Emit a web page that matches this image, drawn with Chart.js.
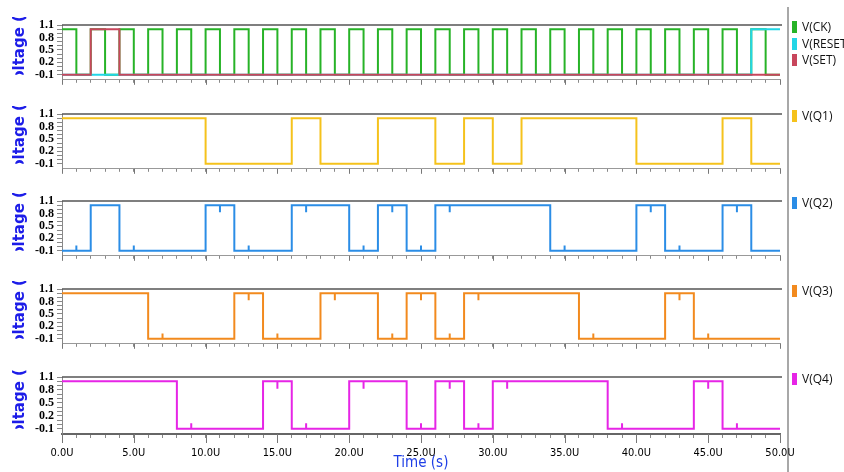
<!DOCTYPE html>
<html>
<head>
<meta charset="utf-8">
<script src="https://cdn.jsdelivr.net/npm/chart.js@4.4.1/dist/chart.umd.min.js"></script>
<style>
html, body { margin: 0; padding: 0; background: #fff; }
#wrap { position: relative; width: 844px; height: 472px; overflow: hidden; background: #fff; }
#wrap canvas { position: absolute; left: 0; }
#sep { position: absolute; left: 787px; top: 7px; width: 2px; height: 465px; background: #a8a8a8; }
.leg { position: absolute; left: 792px; font: 12px "Open Sans", sans-serif; color: #111; white-space: nowrap; line-height: 14px; }
.leg i { display: inline-block; width: 5px; height: 12px; vertical-align: -2px; margin-right: 5px; }
</style>
</head>
<body>
<div id="wrap"><div id="sep"></div></div>
<script>
// levels of the logic signals (V)
const HIGH = 1.0;
const LOW = -0.1;
const GLITCH_UP = 0.13;    // small spike rising from the low level
const GLITCH_DOWN = 0.17;  // small spike dropping from the high level
const T_END = 50;

// each wave: start level, then the times (us) where it toggles, plus glitch times
const ckStart = HIGH;
const ckEdges = [1, 2, 3, 4, 5, 6, 7, 8, 9, 10, 11, 12, 13, 14, 15, 16, 17, 18, 19, 20, 21, 22, 23, 24, 25,
  26, 27, 28, 29, 30, 31, 32, 33, 34, 35, 36, 37, 38, 39, 40, 41, 42, 43, 44, 45, 46, 47, 48, 49];

const resetStart = LOW;
const resetEdges = [48];

const setStart = LOW;
const setEdges = [2, 4];

const q1Start = HIGH;
const q1Edges = [10, 16, 18, 22, 26, 28, 30, 32, 40, 46, 48];
const q1Glitches = [];

const q2Start = LOW;
const q2Edges = [2, 4, 10, 12, 16, 20, 22, 24, 26, 34, 40, 42, 46, 48];
const q2Glitches = [1, 5, 11, 13, 17, 21, 23, 25, 27, 35, 41, 43, 47];

const q3Start = HIGH;
const q3Edges = [6, 12, 14, 18, 22, 24, 26, 28, 36, 42, 44];
const q3Glitches = [7, 13, 15, 19, 23, 25, 27, 29, 37, 43, 45];

const q4Start = HIGH;
const q4Edges = [8, 14, 16, 20, 24, 26, 28, 30, 38, 44, 46];
const q4Glitches = [9, 15, 17, 21, 25, 27, 29, 31, 39, 45, 47];

const xTickValues = [0, 5, 10, 15, 20, 25, 30, 35, 40, 45, 50];
const xTickLabels = ["0.0U", "5.0U", "10.0U", "15.0U", "20.0U", "25.0U", "30.0U", "35.0U", "40.0U", "45.0U", "50.0U"];
const yTickValues = [-0.1, 0, 0.1, 0.2, 0.3, 0.4, 0.5, 0.6, 0.7, 0.8, 0.9, 1.0, 1.1];
const yTickLabels = ["1.1", "0.8", "0.5", "0.2", "-0.1"];
const Y_MIN = -0.22;
const Y_MAX = 1.1;

function buildWave(start, edges, glitches) {
	const marks = edges.map(t => ({ t, glitch: false }))
		.concat(glitches.map(t => ({ t, glitch: true })))
		.sort((a, b) => a.t - b.t);
	let level = start;
	const pts = [{ x: 0, y: level }];
	marks.forEach(m => {
		if (m.glitch) {
			const tip = level === HIGH ? level - GLITCH_DOWN : level + GLITCH_UP;
			pts.push({ x: m.t, y: level }, { x: m.t, y: tip }, { x: m.t, y: level });
		} else {
			pts.push({ x: m.t, y: level });
			level = level === HIGH ? LOW : HIGH;
			pts.push({ x: m.t, y: level });
		}
	});
	pts.push({ x: T_END, y: level });
	return pts;
}

// panels top to bottom; "order" puts lower numbers on top
const panels = [
	{ top: 25, series: [
		{ name: "V(CK)", color: "#27b327", order: 2, data: buildWave(ckStart, ckEdges, []) },
		{ name: "V(RESET)", color: "#22d6e6", order: 1, data: buildWave(resetStart, resetEdges, []) },
		{ name: "V(SET)", color: "#c8465c", order: 0, data: buildWave(setStart, setEdges, []) }
	] },
	{ top: 114, series: [{ name: "V(Q1)", color: "#f5c21c", order: 0, data: buildWave(q1Start, q1Edges, q1Glitches) }] },
	{ top: 201, series: [{ name: "V(Q2)", color: "#2b8de6", order: 0, data: buildWave(q2Start, q2Edges, q2Glitches) }] },
	{ top: 289, series: [{ name: "V(Q3)", color: "#f28a1e", order: 0, data: buildWave(q3Start, q3Edges, q3Glitches) }] },
	{ top: 377, series: [{ name: "V(Q4)", color: "#e625e6", order: 0, data: buildWave(q4Start, q4Edges, q4Glitches) }] }
];

const PAD_TOP = 14;
const AREA_H = 57;

// frame: dark top line, longer ticks every 5us, clipped "Voltage (V)" title
const framePlugin = {
	id: "frame",
	afterDraw(chart, args, opts) {
		const { ctx, chartArea, scales } = chart;
		ctx.save();
		ctx.strokeStyle = "#555";
		ctx.lineWidth = 1.5;
		ctx.beginPath();
		ctx.moveTo(chartArea.left, chartArea.top);
		ctx.lineTo(chartArea.right + 2, chartArea.top);
		ctx.stroke();

		ctx.strokeStyle = "#777";
		ctx.lineWidth = 1;
		xTickValues.forEach(v => {
			const x = Math.round(scales.x.getPixelForValue(v)) + 0.5;
			ctx.beginPath();
			ctx.moveTo(x, chartArea.bottom);
			ctx.lineTo(x, chartArea.bottom + opts.majorLen);
			ctx.stroke();
		});

		const yLow = scales.y.getPixelForValue(-0.1);
		const clipTop = chartArea.top - 8;
		const clipBottom = yLow;
		ctx.beginPath();
		ctx.rect(0, clipTop, 40, clipBottom - clipTop);
		ctx.clip();
		ctx.font = "bold 15px 'DejaVu Sans'";
		ctx.fillStyle = "#1c1ce8";
		const start = clipBottom + ctx.measureText("V").width + ctx.measureText("o").width / 2;
		ctx.translate(20, start);
		ctx.rotate(-Math.PI / 2);
		ctx.textAlign = "left";
		ctx.textBaseline = "middle";
		ctx.fillText("Voltage (V)", 0, 0);
		ctx.restore();
	}
};

const wrap = document.getElementById("wrap");

panels.forEach((p, i) => {
	const isBottom = i === panels.length - 1;
	const xHeight = isBottom ? 37 : 8;
	const h = PAD_TOP + AREA_H + xHeight;

	const canvas = document.createElement("canvas");
	canvas.width = 844;
	canvas.height = h;
	canvas.style.top = (p.top - PAD_TOP) + "px";
	wrap.appendChild(canvas);

	new Chart(canvas.getContext("2d"), {
		type: "line",
		data: {
			datasets: p.series.map(s => ({
				label: s.name,
				data: s.data,
				borderColor: s.color,
				borderWidth: 2,
				borderJoinStyle: "miter",
				pointRadius: 0,
				tension: 0,
				fill: false,
				order: s.order
			}))
		},
		options: {
			responsive: false,
			animation: false,
			devicePixelRatio: 1,
			layout: { padding: { top: PAD_TOP, right: 64, left: 0, bottom: 0 } },
			plugins: {
				legend: { display: false },
				tooltip: { enabled: false },
				frame: { majorLen: isBottom ? 9 : 5 }
			},
			scales: {
				x: {
					type: "linear",
					min: 0,
					max: T_END,
					afterBuildTicks: s => {
						s.ticks = Array.from({ length: T_END + 1 }, (_, k) => ({ value: k }));
					},
					afterFit: s => { s.height = xHeight; },
					ticks: {
						display: isBottom,
						autoSkip: false,
						maxRotation: 0,
						padding: 9,
						color: "#000",
						font: { family: "'DejaVu Sans Condensed', 'DejaVu Sans'", size: 11 },
						callback: v => {
							const k = xTickValues.indexOf(v);
							return k >= 0 ? xTickLabels[k] : "";
						}
					},
					grid: { drawOnChartArea: false, tickLength: isBottom ? 4 : 3, color: "#888" },
					border: { color: isBottom ? "#666" : "#999", width: isBottom ? 2 : 1 },
					title: {
						display: isBottom,
						text: "Time (s)",
						color: "#1f3fe6",
						padding: 0,
						font: { family: "'DejaVu Sans Condensed', 'DejaVu Sans'", size: 15, lineHeight: 1 }
					}
				},
				y: {
					min: Y_MIN,
					max: Y_MAX,
					afterBuildTicks: s => { s.ticks = yTickValues.map(v => ({ value: v })); },
					afterFit: s => { s.width = 62; },
					ticks: {
						autoSkip: false,
						padding: 3,
						color: "#000",
						font: { family: "'Liberation Serif'", size: 12, weight: "bold" },
						callback: v => {
							const t = v.toFixed(1);
							return yTickLabels.includes(t) ? t : "";
						}
					},
					grid: { drawOnChartArea: false, tickLength: 5, color: "#888" },
					border: { color: "#888", width: 1 }
				}
			}
		},
		plugins: [framePlugin]
	});

	// legend entries beside the panel
	p.series.forEach((s, k) => {
		const item = document.createElement("div");
		item.className = "leg";
		item.style.top = (p.top - 5 + k * 16.7) + "px";
		const box = document.createElement("i");
		box.style.background = s.color;
		item.appendChild(box);
		item.appendChild(document.createTextNode(s.name));
		wrap.appendChild(item);
	});
});
</script>
</body>
</html>
